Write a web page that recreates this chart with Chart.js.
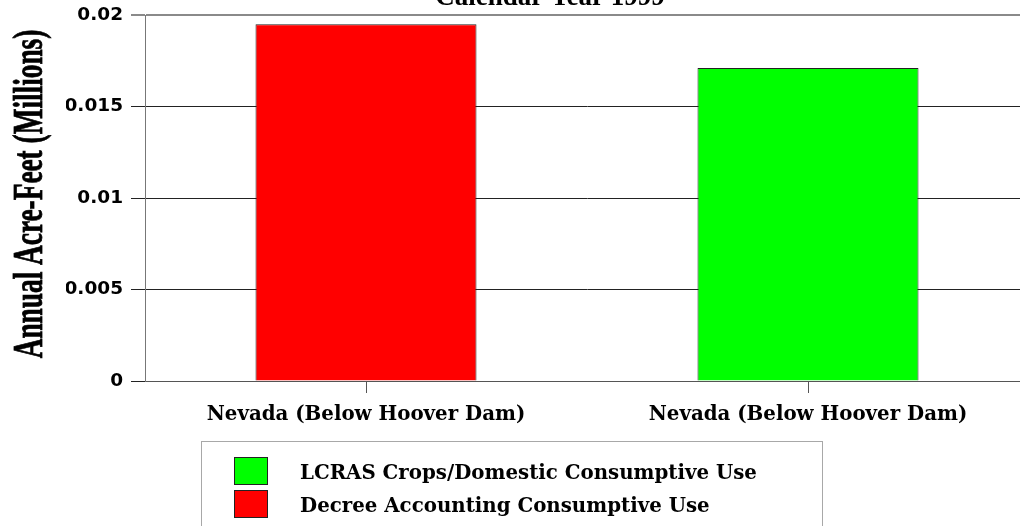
<!DOCTYPE html>
<html>
<head>
<meta charset="utf-8">
<script src="https://cdn.jsdelivr.net/npm/chart.js@4/dist/chart.umd.min.js"></script>
<style>
    html, body { margin: 0; padding: 0; background: #ffffff; overflow: hidden; }
    #wrap { position: relative; width: 1030px; height: 526px; }
    #legendBox {
        position: absolute; left: 201px; top: 441px; width: 622px; height: 120px;
        border: 1px solid #a8a8a8; box-sizing: border-box; padding-top: 12px;
        font-family: "DejaVu Serif", serif; font-weight: bold; font-size: 19.8px; color: #000;
    }
    .legRow { display: flex; align-items: center; height: 33px; }
    .legSwatch { width: 34px; height: 28px; margin-left: 32px; margin-right: 32px; box-sizing: border-box; border: 1px solid #222; }
    .legText { line-height: 28px; padding-top: 2px; }
</style>
</head>
<body>
<div id="wrap">
    <canvas id="chart1" width="1030" height="526"></canvas>
    <div id="legendBox"></div>
</div>
<script>
// ---- data ----
const categories = ['Nevada (Below Hoover Dam)', 'Nevada (Below Hoover Dam)'];
const lcrasValues = [null, 0.0171];
const decreeValues = [0.0195, null];
const yTickValues = [0, 0.005, 0.01, 0.015, 0.02];
const chartTitle = 'Calendar Year 1999';
const yTitle = 'Annual Acre-Feet (Millions)';

// başlık + dikey eksen yazısı (sıkıştırılmış serif)
const titlesPlugin = {
    id: 'titles',
    afterDraw(chart) {
        const ctx = chart.ctx;
        const area = chart.chartArea;
        ctx.save();
        ctx.fillStyle = '#000';
        ctx.font = 'bold 27px "Liberation Serif", serif';
        ctx.textAlign = 'center';
        ctx.textBaseline = 'alphabetic';
        ctx.fillText(chartTitle, 550, area.top - 10);
        ctx.restore();

        ctx.save();
        ctx.fillStyle = '#000';
        ctx.strokeStyle = '#000';
        ctx.lineWidth = 0.8;
        ctx.font = 'bold 42px "Liberation Serif", serif';
        ctx.translate(42, 194);
        ctx.rotate(-Math.PI / 2);
        ctx.scale(0.65, 1);
        ctx.textAlign = 'center';
        ctx.textBaseline = 'alphabetic';
        ctx.fillText(yTitle, 0, 0);
        ctx.strokeText(yTitle, 0, 0);
        ctx.restore();
    }
};

// html legend
const htmlLegendPlugin = {
    id: 'htmlLegend',
    afterUpdate(chart) {
        const box = document.getElementById('legendBox');
        box.innerHTML = '';
        chart.data.datasets.forEach(ds => {
            const row = document.createElement('div');
            row.className = 'legRow';
            const sw = document.createElement('span');
            sw.className = 'legSwatch';
            sw.style.background = ds.backgroundColor;
            const tx = document.createElement('span');
            tx.className = 'legText';
            tx.textContent = ds.label;
            row.appendChild(sw);
            row.appendChild(tx);
            box.appendChild(row);
        });
    }
};

const ctx = document.getElementById('chart1').getContext('2d');
new Chart(ctx, {
    type: 'bar',
    data: {
        labels: categories,
        datasets: [
            { label: 'LCRAS Crops/Domestic Consumptive Use', data: lcrasValues, backgroundColor: '#00ff00', borderColor: '#222222', borderWidth: 1 },
            { label: 'Decree Accounting Consumptive Use', data: decreeValues, backgroundColor: '#ff0000', borderColor: '#222222', borderWidth: 1 }
        ]
    },
    options: {
        responsive: false,
        animation: false,
        skipNull: true,
        barPercentage: 0.5,
        categoryPercentage: 1,
        layout: { padding: { left: 66, right: 1, top: 15, bottom: 95 } },
        scales: {
            x: {
                afterFit: s => { s.height = 50; },
                grid: { drawOnChartArea: false, drawTicks: true, tickLength: 12, offset: false, color: '#555555' },
                border: { color: '#555555', width: 1 },
                ticks: { color: '#000', padding: 10, font: { family: '"DejaVu Serif", serif', size: 19.8, weight: 'bold' } }
            },
            y: {
                min: 0,
                max: 0.02,
                afterFit: s => { s.width = 79; s.paddingTop = 0; s.paddingBottom = 0; },
                afterBuildTicks: s => { s.ticks = yTickValues.map(v => ({ value: v })); },
                grid: {
                    tickLength: 14,
                    color: c => (c.tick && c.tick.value === 0.02) ? '#8a8a8a' : '#222222',
                    lineWidth: c => (c.tick && c.tick.value === 0.02) ? 2 : 1
                },
                border: { color: '#777777', width: 1 },
                ticks: {
                    color: '#000',
                    padding: 8,
                    font: { family: '"DejaVu Sans", sans-serif', size: 18.5, weight: 'bold' },
                    callback: v => String(+Number(v).toFixed(3))
                }
            }
        },
        plugins: {
            legend: { display: false },
            tooltip: { enabled: false }
        }
    },
    plugins: [titlesPlugin, htmlLegendPlugin]
});
</script>
</body>
</html>
